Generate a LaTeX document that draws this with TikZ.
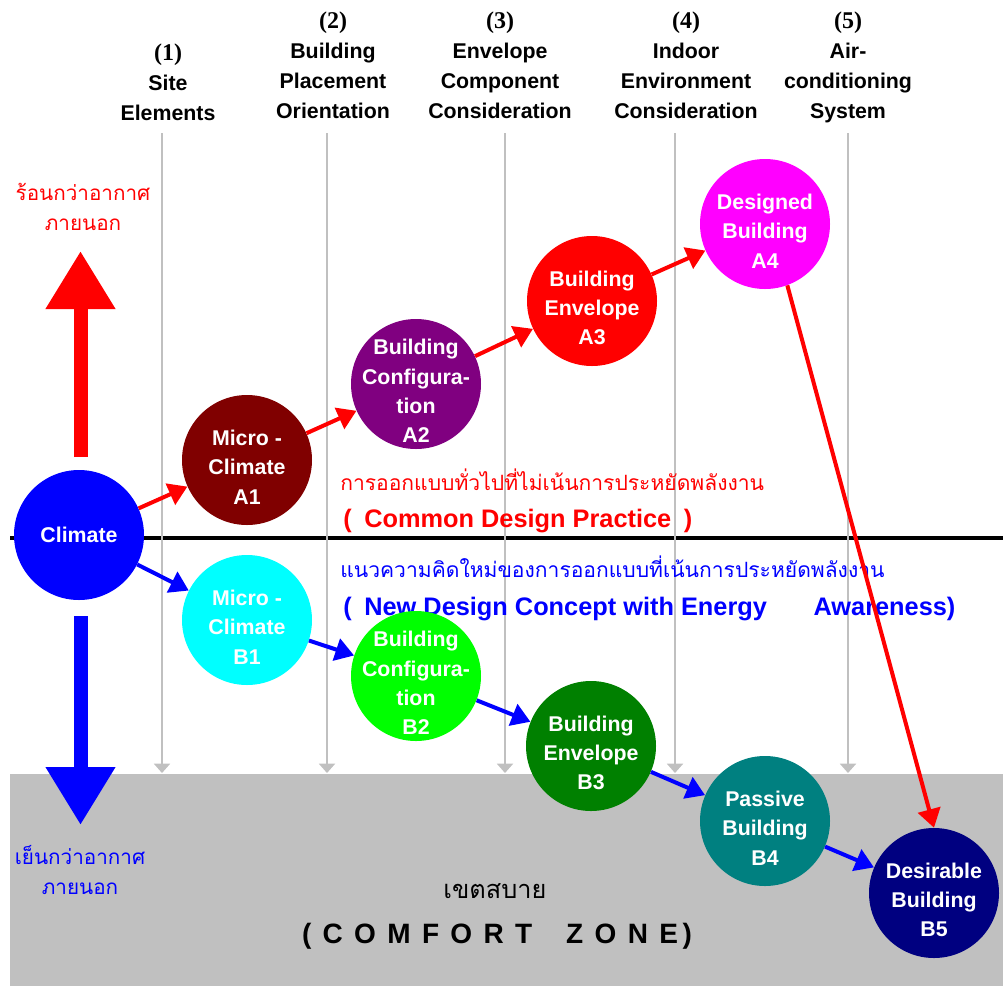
\documentclass[tikz,border=0pt]{standalone}
\usepackage{fontspec}
\setmainfont{Liberation Sans}
\newfontfamily\thaifont[Script=Thai]{Loma}
\newfontfamily\numfont{Liberation Serif}
\usetikzlibrary{arrows.meta}

\definecolor{zonegray}{RGB}{192,192,192}
\definecolor{maroonA}{RGB}{128,0,0}
\definecolor{purpleA}{RGB}{128,0,128}
\definecolor{magentaA}{RGB}{255,0,255}
\definecolor{cyanB}{RGB}{0,255,255}
\definecolor{limeB}{RGB}{0,255,0}
\definecolor{greenB}{RGB}{0,128,0}
\definecolor{tealB}{RGB}{0,128,128}
\definecolor{navyB}{RGB}{0,0,128}

% pushes the text of a bubble a little below its centre
\newcommand{\toppad}{\rule{0pt}{22pt}}

\tikzset{
    bubble/.style={circle, minimum size=97.5pt, inner sep=-12pt, align=center, text=white, font=\bfseries\fontsize{16}{22}\selectfont},
    heading/.style={anchor=south, inner sep=0pt, align=center, text depth=0.3em, font=\bfseries\fontsize{16}{22.5}\selectfont},
    thailbl/.style={inner sep=0pt, align=center, font=\thaifont\fontsize{15.5}{22}\selectfont},
    thailine/.style={anchor=west, inner sep=0pt, font=\thaifont\fontsize{15.8}{22}\selectfont},
    practice/.style={anchor=west, inner sep=0pt, font=\bfseries\fontsize{19}{22}\selectfont},
    redflow/.style={draw=red, line width=3pt, -{Triangle[length=14pt,width=17pt]}},
    blueflow/.style={draw=blue, line width=3pt, -{Triangle[length=14pt,width=17pt]}},
    guide/.style={draw=zonegray, line width=1.5pt, -{Triangle[length=7pt,width=12pt]}},
}

\begin{document}
\begin{tikzpicture}[x=0.75pt,y=0.75pt,yscale=-1,xscale=1]
\useasboundingbox (0,0) rectangle (1003,986);

%Shape: Comfort zone
\fill [zonegray] (10,774) rectangle (1003,986);
%Straight Lines: divider
\draw [line width=3pt] (10,538) -- (1003,538);
%Straight Lines: guides
\foreach \gx in {162,327,505,675,848}
    \draw [guide] (\gx,133) -- (\gx,773);

%Headings
\node [heading] (h1) at (168,125) {{\numfont\fontsize{18}{22.5}\selectfont (1)}\\Site\\Elements};
\node [heading] (h2) at (333,123) {{\numfont\fontsize{18}{22.5}\selectfont (2)}\\Building\\Placement\\Orientation};
\node [heading] (h3) at (500,123) {{\numfont\fontsize{18}{22.5}\selectfont (3)}\\Envelope\\Component\\Consideration};
\node [heading] (h4) at (686,123) {{\numfont\fontsize{18}{22.5}\selectfont (4)}\\Indoor\\Environment\\Consideration};
\node [heading] (h5) at (848,123) {{\numfont\fontsize{18}{22.5}\selectfont (5)}\\Air-\\conditioning\\System};

%Shape: big arrows
\draw [red, line width=10.5pt, -{Triangle[length=43.5pt,width=49.5pt]}] (80.5,457) -- (80.5,251);
\draw [blue, line width=10.5pt, -{Triangle[length=43.5pt,width=49.5pt]}] (80.5,616) -- (80.5,825);

%Labels
\node [thailbl, text=red] (hot) at (83,207) {ร้อนกว่าอากาศ\\ภายนอก};
\node [thailbl, text=blue] (cold) at (80,870) {เย็นกว่าอากาศ\\ภายนอก};
\node [thailine, text=red] (commonth) at (340,480) {การออกแบบทั่วไปที่ไม่เน้นการประหยัดพลังงาน};
\node [practice, text=red] (commonen) at (343,521) {(\enspace Common Design Practice\enspace)};
\node [thailine, text=blue] (newth) at (340,567) {แนวความคิดใหม่ของการออกแบบที่เน้นการประหยัดพลังงาน};
\node [practice, text=blue] (newen) at (343,609) {(\enspace New Design Concept with Energy\hspace{35pt}Awareness)};
\node [thailbl, font=\thaifont\fontsize{19}{22}\selectfont] (zoneth) at (495,891) {เขตสบาย};
\node [inner sep=0pt, font=\bfseries\fontsize{21}{24}\selectfont] (zoneen) at (497,936) {\spaceskip=8.5pt\relax(\ C\ O\ M\ F\ O\ R\ T\ \ \ Z\ O\ N\ E\,)};

%Shape: Circles
\node [bubble, fill=blue] (climate) at (79,535) {Climate};
\node [bubble, fill=maroonA] (a1) at (247,460) {\toppad Micro -\\Climate\\A1};
\node [bubble, fill=purpleA] (a2) at (416,384) {\toppad Building\\Configura-\\tion\\A2};
\node [bubble, fill=red] (a3) at (592,301) {\toppad Building\\Envelope\\A3};
\node [bubble, fill=magentaA] (a4) at (765,224) {\toppad Designed\\Building\\A4};
\node [bubble, fill=cyanB] (b1) at (247,620) {\toppad Micro -\\Climate\\B1};
\node [bubble, fill=limeB] (b2) at (416,676) {\toppad Building\\Configura-\\tion\\B2};
\node [bubble, fill=greenB] (b3) at (591,746) {\toppad Building\\Envelope\\B3};
\node [bubble, fill=tealB] (b4) at (765,821) {\toppad Passive\\Building\\B4};
\node [bubble, fill=navyB] (b5) at (934,893) {\toppad Desirable\\Building\\B5};

%Straight Lines: common path
\draw [redflow] (climate) -- (a1);
\draw [redflow] (a1) -- (a2);
\draw [redflow] (a2) -- (a3);
\draw [redflow] (a3) -- (a4);
\draw [redflow] (a4.-70) -- (b5.north);
%Straight Lines: new path
\draw [blueflow] (climate) -- (b1);
\draw [blueflow] (b1) -- (b2);
\draw [blueflow] (b2) -- (b3);
\draw [blueflow] (b3) -- (b4);
\draw [blueflow] (b4) -- (b5);

\end{tikzpicture}
\end{document}
